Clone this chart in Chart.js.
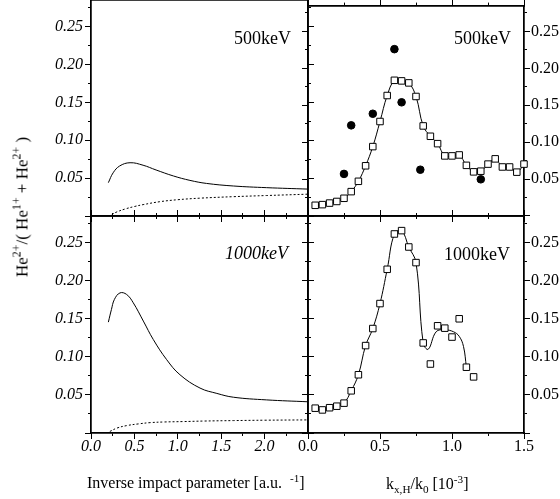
<!DOCTYPE html>
<html><head><meta charset="utf-8">
<script src="https://cdn.jsdelivr.net/npm/chart.js@4.4.0/dist/chart.umd.min.js"></script>
<style>
html,body{margin:0;padding:0;background:#fff;}
#wrap{position:relative;width:560px;height:499px;overflow:hidden;font-family:"Liberation Serif","Times New Roman",serif;color:#000;}
canvas{position:absolute;left:0;top:0;}
.t{position:absolute;white-space:nowrap;line-height:1;}
.t sup,.t sub{font-size:70%;line-height:0;}
</style></head><body>
<div id="wrap">
<canvas id="cTL" width="560" height="499"></canvas>
<canvas id="cTR" width="560" height="499"></canvas>
<canvas id="cBL" width="560" height="499"></canvas>
<canvas id="cBR" width="560" height="499"></canvas>
<div class="t" style="right:269px;top:29px;font-size:18px;">500keV</div>
<div class="t" style="right:49px;top:29px;font-size:18px;">500keV</div>
<div class="t" style="right:272px;top:244px;font-size:18px;font-style:italic;">1000keV</div>
<div class="t" style="right:50px;top:245px;font-size:18px;">1000keV</div>
<div class="t" style="left:87px;top:475px;font-size:16px;">Inverse impact parameter [a.u. &nbsp;<sup>-1</sup>]</div>
<div class="t" style="left:386px;top:476px;font-size:16px;">k<sub>x,H</sub>/k<sub>0</sub> [10<sup>-3</sup>]</div>
<div class="t" style="left:22px;top:207px;font-size:17px;transform:translate(-50%,-50%) rotate(-90deg);">He<sup>2+</sup>/( He<sup>1+</sup> + He<sup>2+</sup> )</div>
</div>
<script>
// ---- data ----
// 500 keV, inverse impact parameter (left top)
const tlSolidX = [0.20,0.255,0.33,0.45,0.60,0.75,0.95,1.14,1.33,1.64,2.02,2.50];
const tlSolidY = [0.044,0.057,0.066,0.0703,0.067,0.0607,0.0528,0.047,0.043,0.0396,0.0374,0.0355];
const tlDotX = [0.24,0.30,0.40,0.50,0.60,0.80,1.00,1.25,1.64,2.02,2.50];
const tlDotY = [0.002,0.0055,0.0095,0.0125,0.015,0.019,0.0215,0.0235,0.0255,0.027,0.0288];
// 1000 keV, inverse impact parameter (left bottom)
const blSolidX = [0.20,0.235,0.27,0.334,0.41,0.487,0.603,0.718,0.872,1.025,1.256,1.45,1.64,2.02,2.50];
const blSolidY = [0.1456,0.162,0.1755,0.184,0.182,0.171,0.147,0.1227,0.0963,0.0765,0.059,0.052,0.047,0.0435,0.041];
const blDotX = [0.217,0.30,0.41,0.55,0.68,0.85,1.06,1.30,1.64,2.00,2.50];
const blDotY = [0.002,0.0065,0.0097,0.012,0.0136,0.0145,0.015,0.0157,0.0163,0.0168,0.0172];
// 500 keV, k_x,H/k_0 (right top)
const trSqX = [0.05,0.10,0.15,0.20,0.25,0.30,0.35,0.40,0.45,0.50,0.55,0.60,0.65,0.70,0.75,0.80,0.85,0.90,0.95,1.00,1.05,1.10,1.15,1.20,1.25,1.30,1.35,1.40,1.45,1.50];
const trSqY = [0.0145,0.0154,0.0175,0.0197,0.024,0.033,0.047,0.068,0.094,0.128,0.1632,0.1838,0.183,0.1803,0.1619,0.122,0.108,0.098,0.0814,0.0814,0.0827,0.0686,0.0598,0.0607,0.0703,0.0774,0.0664,0.0664,0.0594,0.0703];
const trDotX = [0.25,0.30,0.45,0.60,0.65,0.78,1.20];
const trDotY = [0.057,0.1228,0.1385,0.226,0.154,0.0627,0.0497];
// 1000 keV, k_x,H/k_0 (right bottom)
const brSqX = [0.05,0.10,0.15,0.20,0.25,0.30,0.35,0.40,0.45,0.50,0.55,0.60,0.65,0.70,0.75,0.80,0.85,0.90,0.95,1.00,1.05,1.10,1.15];
const brSqY = [0.0326,0.0303,0.0332,0.0352,0.0392,0.0554,0.0765,0.1148,0.1372,0.170,0.215,0.2614,0.2658,0.2443,0.2238,0.1183,0.0906,0.1408,0.1377,0.126,0.150,0.0864,0.0737];
const brLineX = [0.05,0.10,0.15,0.20,0.25,0.30,0.35,0.40,0.45,0.50,0.55,0.60,0.65,0.70,0.75,0.80,0.835,0.89,0.95,1.01,1.05,1.08,1.10];
const brLineY = [0.0326,0.0303,0.0332,0.0352,0.0392,0.0554,0.0765,0.1148,0.1372,0.170,0.215,0.2614,0.2658,0.2443,0.2238,0.1183,0.110,0.133,0.1355,0.133,0.127,0.1135,0.0864];
// axis ranges / ticks
const yRange = [0, 0.285];
const xLeftRange = [0, 2.5];
const xRightRange = [0, 1.5];
const yTickLabels = ['0.05','0.10','0.15','0.20','0.25'];
const xLeftTickLabels = ['0.0','0.5','1.0','1.5','2.0'];
const xRightTickLabels = ['0.0','0.5','1.0','1.5'];

const W = 560, H = 499;
const pts = (xs, ys) => xs.map((x, i) => ({x: x, y: ys[i]}));
const FONT = 'Liberation Serif';
const fitTo = size => s => {
  if (s.isHorizontal()) s.height = size; else s.width = size;
  s.paddingTop = 0; s.paddingBottom = 0; s.paddingLeft = 0; s.paddingRight = 0;
};
function labeler(list, dec) {
  return v => {
    const s = Number(v).toFixed(dec);
    return (list.indexOf(s) >= 0 && Math.abs(Number(s) - v) < 1e-6) ? s : '';
  };
}
function mkAxis(pos, range, step, tl, cb, font, pad, size, weight) {
  return {
    type: 'linear', axis: (pos === 'left' || pos === 'right') ? 'y' : 'x', position: pos,
    min: range[0], max: range[1], afterFit: fitTo(size), weight: weight,
    border: {display: true, color: '#000', width: 1.5},
    grid: {display: true, drawOnChartArea: false, drawTicks: true, tickLength: tl, color: '#000', lineWidth: 1},
    ticks: {display: true, stepSize: step, autoSkip: false, maxRotation: 0, minRotation: 0, includeBounds: false,
      padding: pad, color: '#000', font: font, callback: cb || (() => '')}
  };
}
function panel(id, area, xr, xStep, xLabels, xFont, yLabelsLeft, yLabelsRight, datasets) {
  const fIt = {family: FONT, size: 16, style: 'italic', lineHeight: 1};
  const fUp = {family: FONT, size: 16, style: 'normal', lineHeight: 1};
  const leftSize = yLabelsLeft ? area[0] : 0;
  const rightSize = yLabelsRight ? W - area[2] : 0;
  const bottomSize = xLabels ? 40 : 0;
  const scales = {
    x: mkAxis('bottom', xr, xStep, 6, xLabels ? labeler(xLabels, 1) : null, xFont, 0, bottomSize, 10),
    xm: mkAxis('bottom', xr, xStep / 2, 3, null, fUp, 0, 0, 0),
    xt: mkAxis('top', xr, xStep, 6, null, fUp, 0, 0, 10),
    xtm: mkAxis('top', xr, xStep / 2, 3, null, fUp, 0, 0, 0),
    y: mkAxis('left', yRange, 0.05, 6, yLabelsLeft ? labeler(yTickLabels, 2) : null, fIt, 2, leftSize, 10),
    ym: mkAxis('left', yRange, 0.025, 3, null, fUp, 0, 0, 0),
    yr: mkAxis('right', yRange, 0.05, 6, yLabelsRight ? labeler(yTickLabels, 2) : null, fUp, 1, rightSize, 10),
    yrm: mkAxis('right', yRange, 0.025, 3, null, fUp, 0, 0, 0)
  };
  return new Chart(document.getElementById(id), {
    type: 'scatter',
    data: {datasets: datasets},
    options: {
      responsive: false, animation: false, events: [],
      layout: {padding: {left: area[0] - leftSize, top: area[1], right: W - area[2] - rightSize, bottom: H - area[3] - bottomSize}},
      plugins: {legend: {display: false}, tooltip: {enabled: false}, title: {display: false}},
      scales: scales
    }
  });
}
const solid = (xs, ys) => ({data: pts(xs, ys), showLine: true, pointRadius: 0, borderColor: '#000', borderWidth: 1, tension: 0.4, fill: false, order: 3});
const dotted = (xs, ys) => ({data: pts(xs, ys), showLine: true, pointRadius: 0, borderColor: '#000', borderWidth: 1, borderDash: [2, 2], tension: 0.4, fill: false, order: 3});
const squares = (xs, ys) => ({data: pts(xs, ys), showLine: false, pointStyle: 'rect', pointRadius: 4.6, backgroundColor: '#fff', borderColor: '#000', borderWidth: 1, clip: false, order: 1});
const discs = (xs, ys) => ({data: pts(xs, ys), showLine: false, pointStyle: 'circle', pointRadius: 3.8, backgroundColor: '#000', borderColor: '#000', borderWidth: 1, clip: false, order: 0});

const fItX = {family: FONT, size: 16, style: 'italic', lineHeight: 1};
const fUpX = {family: FONT, size: 16, style: 'normal', lineHeight: 1};

panel('cTL', [91, 0, 308, 216], xLeftRange, 0.5, null, fItX, true, false,
  [solid(tlSolidX, tlSolidY), dotted(tlDotX, tlDotY)]);
panel('cBL', [91, 216, 308, 433], xLeftRange, 0.5, xLeftTickLabels, fItX, true, false,
  [solid(blSolidX, blSolidY), dotted(blDotX, blDotY)]);
panel('cTR', [308, 0, 524, 216], xRightRange, 0.5, null, fUpX, false, true,
  [discs(trDotX, trDotY), squares(trSqX, trSqY), solid(trSqX, trSqY)]);
panel('cBR', [308, 216, 524, 433], xRightRange, 0.5, xRightTickLabels, fUpX, false, true,
  [squares(brSqX, brSqY), solid(brLineX, brLineY)]);
</script>
</body></html>
